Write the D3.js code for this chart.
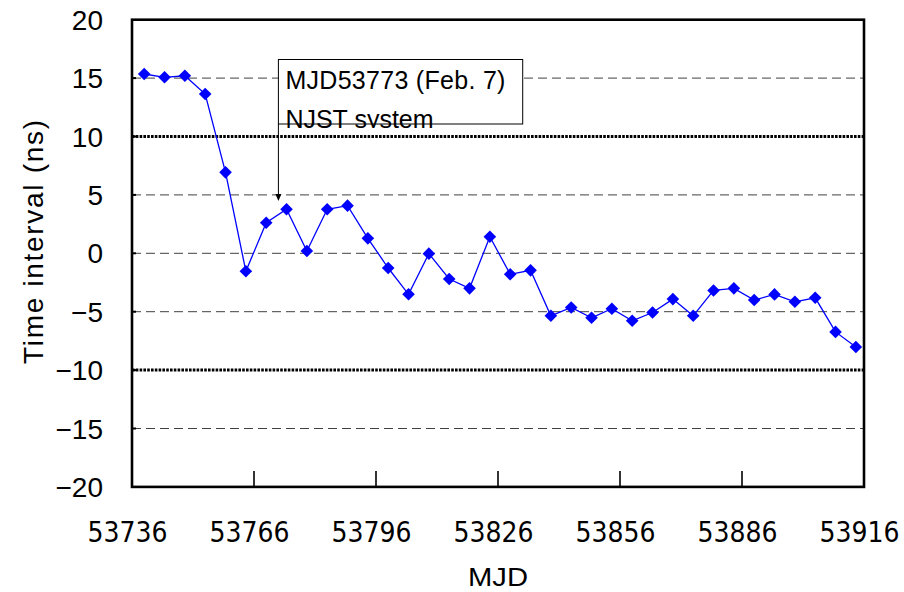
<!DOCTYPE html>
<html><head><meta charset="utf-8">
<script src="https://cdn.jsdelivr.net/npm/d3@7"></script>
<style>body{margin:0;background:#fff}</style>
</head><body>
<svg id="c" width="904" height="592"></svg>
<script>
const mjd = [53739,53744,53749,53754,53759,53764,53769,53774,53779,53784,53789,53794,
  53799,53804,53809,53814,53819,53824,53829,53834,53839,53844,53849,53854,53859,53864,
  53869,53874,53879,53884,53889,53894,53899,53904,53909,53914];
const interval = [15.35,15.07,15.2,13.64,6.93,-1.54,2.62,3.77,0.2,3.77,4.08,1.28,
  -1.26,-3.51,-0.03,-2.2,-3.0,1.42,-1.8,-1.46,-5.35,-4.64,-5.52,-4.75,-5.78,-5.07,
  -3.92,-5.35,-3.18,-3.0,-4.0,-3.52,-4.15,-3.81,-6.73,-8.02];
const xTicks = [53736,53766,53796,53826,53856,53886,53916];
const yTicks = [20,15,10,5,0,-5,-10,-15,-20];
const dashedLevels = [15,5,0,-5,-15];
const dottedLevels = [10,-10];
const annotationLines = ["MJD53773 (Feb. 7)","NJST system"];
const annotationMJD = 53772;

const svg = d3.select("#c");
const L=132,R=864,T=19.7,B=486.9;
const x = d3.scaleLinear().domain([53736,53916]).range([L,R]);
const y = d3.scaleLinear().domain([-20,20]).range([B,T]);

// dashed grid
svg.append("g").selectAll("line").data(dashedLevels).join("line")
  .attr("x1",L).attr("x2",R).attr("y1",d=>y(d)).attr("y2",d=>y(d))
  .attr("stroke","#404040").attr("stroke-width",1).attr("stroke-dasharray","9,5");
// dotted heavy lines
svg.append("g").selectAll("line").data(dottedLevels).join("line")
  .attr("x1",L).attr("x2",R).attr("y1",d=>y(d)).attr("y2",d=>y(d))
  .attr("stroke","#000").attr("stroke-width",3).attr("stroke-dasharray","2.6,1.2");

// frame
svg.append("rect").attr("x",L).attr("y",T).attr("width",R-L).attr("height",B-T)
  .attr("fill","none").attr("stroke","#000").attr("stroke-width",2.6);

// y ticks inward
svg.append("g").selectAll("line").data(yTicks.slice(1,-1)).join("line")
  .attr("x1",L).attr("x2",L+4).attr("y1",d=>y(d)).attr("y2",d=>y(d))
  .attr("stroke","#000").attr("stroke-width",2);
// x ticks inward
svg.append("g").selectAll("line").data(xTicks.slice(1,-1)).join("line")
  .attr("x1",d=>x(d)).attr("x2",d=>x(d)).attr("y1",B).attr("y2",B-16)
  .attr("stroke","#000").attr("stroke-width",1.6);

// y tick labels
svg.append("g").selectAll("text").data(yTicks).join("text")
  .attr("x",103).attr("y",d=>y(d)+10).attr("text-anchor","end")
  .attr("font-family","'Liberation Sans',Arial,sans-serif").attr("font-size",28)
  .text(d=>d<0?"\u2212"+Math.abs(d):String(d));
// x tick labels
svg.append("g").selectAll("text").data(xTicks).join("text")
  .attr("x",d=>x(d)-4.5).attr("y",542).attr("text-anchor","middle")
  .attr("font-family","'Liberation Sans Narrow','DejaVu Sans Condensed',sans-serif")
  .attr("font-size",28).attr("textLength",80).attr("lengthAdjust","spacingAndGlyphs")
  .text(d=>d);

// axis titles
svg.append("text").attr("x",498).attr("y",586).attr("text-anchor","middle")
  .attr("font-family","'Liberation Sans',Arial,sans-serif").attr("font-size",25)
  .attr("textLength",60).attr("lengthAdjust","spacingAndGlyphs").text("MJD");
svg.append("text").attr("transform","translate(43,242) rotate(-90)").attr("text-anchor","middle")
  .attr("font-family","'Liberation Sans',Arial,sans-serif").attr("font-size",28)
  .attr("textLength",244).attr("lengthAdjust","spacing").text("Time interval (ns)");

// series
const line = d3.line().x((d,i)=>x(mjd[i])).y(d=>y(d));
svg.append("path").datum(interval).attr("d",line).attr("fill","none")
  .attr("stroke","#0000ff").attr("stroke-width",1.3);
const diamond = "M0,-6.3L6.3,0L0,6.3L-6.3,0Z";
svg.append("g").selectAll("path").data(interval).join("path")
  .attr("transform",(d,i)=>`translate(${x(mjd[i])},${y(d)})`)
  .attr("d",diamond).attr("fill","#0000ff");

// annotation
const ax = x(annotationMJD);
const boxTop = 59.5, boxBot = 124, boxRight = 522.7;
svg.append("defs").append("clipPath").attr("id","clipAnn").append("rect")
  .attr("x",ax).attr("y",boxTop).attr("width",boxRight-ax).attr("height",128-boxTop);
svg.append("rect").attr("x",ax).attr("y",boxTop).attr("width",boxRight-ax).attr("height",boxBot-boxTop)
  .attr("fill","#fff").attr("stroke","#000").attr("stroke-width",1);
const ag = svg.append("g").attr("clip-path","url(#clipAnn)");
ag.selectAll("text").data(annotationLines).join("text")
  .attr("x",ax+7).attr("y",(d,i)=>i===0?89:127.5)
  .attr("font-family","'Liberation Sans',Arial,sans-serif").attr("font-size",25)
  .attr("textLength",(d,i)=>i===0?220:null).attr("lengthAdjust","spacing")
  .text(d=>d);
svg.append("line").attr("x1",ax).attr("x2",ax).attr("y1",boxBot).attr("y2",196)
  .attr("stroke","#000").attr("stroke-width",1);
svg.append("path").attr("d",`M${ax-3},${194}L${ax+3},${194}L${ax},${201}Z`).attr("fill","#000");
</script>
</body></html>
